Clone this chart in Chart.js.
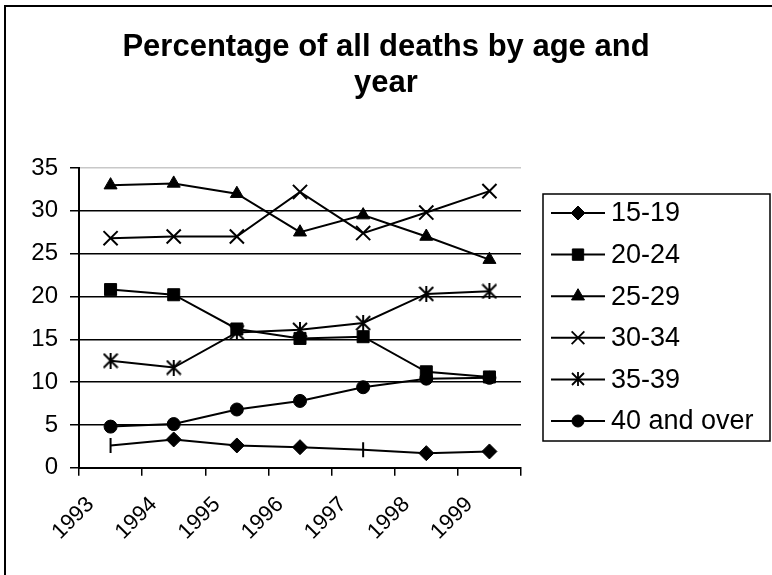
<!DOCTYPE html>
<html>
<head>
<meta charset="utf-8">
<script src="https://cdn.jsdelivr.net/npm/chart.js@4.4.1/dist/chart.umd.min.js"></script>
<style>
  html, body { margin: 0; padding: 0; background: #fff; }
  #wrap { position: relative; width: 772px; height: 575px; }
</style>
</head>
<body>
<div id="wrap"><canvas id="deathsChart" width="772" height="575"></canvas></div>
<script>
/* ══════════════════════════════
   DATA
══════════════════════════════ */
const years = ['1993', '1994', '1995', '1996', '1997', '1998', '1999'];
const yTicks = [0, 5, 10, 15, 20, 25, 30, 35];
const titleLines = ['Percentage of all deaths by age and', 'year'];

const age15to19 = [2.6, 3.3, 2.6, 2.4, 2.1, 1.7, 1.9];
const age20to24 = [20.8, 20.2, 16.2, 15.1, 15.3, 11.2, 10.6];
const age25to29 = [33.0, 33.2, 32.0, 27.5, 29.5, 27.0, 24.3];
const age30to34 = [26.8, 27.0, 27.0, 32.2, 27.4, 29.8, 32.3];
const age35to39 = [12.5, 11.7, 15.8, 16.1, 16.9, 20.3, 20.6];
const age40plus = [4.8, 5.1, 6.8, 7.8, 9.4, 10.4, 10.5];

const FONT = '"Liberation Sans", Arial, sans-serif';

// Excel style asterisk marker (X plus a vertical bar)
function asterisk(size, lw) {
  const c = document.createElement('canvas');
  c.width = size;
  c.height = size;
  const g = c.getContext('2d');
  g.strokeStyle = '#000';
  g.lineWidth = lw;
  g.beginPath();
  g.moveTo(1, 1); g.lineTo(size - 1, size - 1);
  g.moveTo(size - 1, 1); g.lineTo(1, size - 1);
  g.moveTo(size / 2, 0); g.lineTo(size / 2, size);
  g.stroke();
  return c;
}
const starBig = asterisk(16, 2);
const starSmall = asterisk(14, 1.8);

const legendStyles = ['rectRot', 'rect', 'triangle', 'crossRot', starSmall, 'circle'];
const legendRadii = [7, 8, 7.5, 9, 7, 6];

/* ══════════════════════════════
   PLUGINS
══════════════════════════════ */
// frame + two-line title centred on the whole picture
const frameAndTitle = {
  id: 'frameAndTitle',
  afterDraw(chart) {
    const { ctx, width } = chart;
    ctx.save();
    ctx.fillStyle = '#000';
    ctx.fillRect(4, 5, 2, 570);
    ctx.fillRect(4, 5, 768, 2);

    ctx.font = 'bold 31px ' + FONT;
    ctx.textAlign = 'center';
    ctx.textBaseline = 'alphabetic';
    ctx.fillText(titleLines[0], width / 2, 56);
    ctx.fillText(titleLines[1], width / 2, 92);
    ctx.restore();
  }
};

const legendBox = {
  id: 'legendBox',
  afterDraw(chart) {
    const { ctx, chartArea } = chart;
    const x0 = chartArea.right + 22;
    const y0 = chartArea.top + 26;
    ctx.save();
    ctx.strokeStyle = '#000';
    ctx.fillStyle = '#000';
    ctx.lineWidth = 1.5;
    ctx.strokeRect(x0, y0, 227, 247);

    chart.data.datasets.forEach((ds, i) => {
      const y = y0 + 19 + i * 41.6;
      ctx.lineWidth = 2;
      ctx.beginPath();
      ctx.moveTo(x0 + 8, y);
      ctx.lineTo(x0 + 62, y);
      ctx.stroke();
      if (legendStyles[i] === starSmall) {
        ctx.drawImage(starSmall, Math.round(x0 + 35 - 7), Math.round(y - 7));
      } else {
        ctx.lineWidth = i === 3 ? 1.8 : 1;
        Chart.helpers.drawPoint(ctx, {
          pointStyle: legendStyles[i],
          radius: legendRadii[i],
          rotation: 0,
          borderWidth: 1
        }, x0 + 35, y);
      }
      ctx.font = '27px ' + FONT;
      ctx.textAlign = 'left';
      ctx.textBaseline = 'middle';
      ctx.fillText(ds.label, x0 + 68, y + 1);
    });
    ctx.restore();
  }
};

/* ══════════════════════════════
   CHART
══════════════════════════════ */
const base = {
  borderColor: '#000',
  backgroundColor: '#000',
  borderWidth: 2,
  pointBackgroundColor: '#000',
  pointBorderColor: '#000',
  pointBorderWidth: 1,
  tension: 0,
  fill: false
};

new Chart(document.getElementById('deathsChart').getContext('2d'), {
  type: 'line',
  data: {
    labels: years,
    datasets: [
      {
        ...base,
        label: '15-19',
        data: age15to19,
        pointStyle: ['line', 'rectRot', 'rectRot', 'rectRot', 'line', 'rectRot', 'rectRot'],
        pointRotation: [90, 0, 0, 0, 90, 0, 0],
        pointBorderWidth: [2, 1, 1, 1, 2, 1, 1],
        pointRadius: 7.5
      },
      { ...base, label: '20-24', data: age20to24, pointStyle: 'rect', pointRadius: 8.5 },
      { ...base, label: '25-29', data: age25to29, pointStyle: 'triangle', pointRadius: 7.5 },
      { ...base, label: '30-34', data: age30to34, pointStyle: 'crossRot', pointRadius: 10, pointBorderWidth: 2 },
      { ...base, label: '35-39', data: age35to39, pointStyle: starBig, pointRadius: 8 },
      { ...base, label: '40 and over', data: age40plus, pointStyle: 'circle', pointRadius: 6.5 }
    ]
  },
  options: {
    responsive: false,
    devicePixelRatio: 1,
    animation: false,
    layout: {
      padding: { left: 31, top: 168, right: 251, bottom: 14 }
    },
    plugins: {
      legend: { display: false },
      title: { display: false },
      tooltip: { enabled: false }
    },
    scales: {
      x: {
        offset: true,
        afterFit: scale => { scale.paddingLeft = 0; scale.paddingRight = 0; },
        grid: {
          offset: true,
          drawOnChartArea: false,
          drawTicks: true,
          tickLength: 8,
          color: '#000',
          lineWidth: 1.5
        },
        border: { display: true, color: '#000', width: 2 },
        ticks: {
          color: '#000',
          font: { family: FONT, size: 22 },
          minRotation: 45,
          maxRotation: 45,
          labelOffset: -20,
          padding: 16
        }
      },
      y: {
        min: 0,
        max: 35,
        afterBuildTicks: axis => { axis.ticks = yTicks.map(v => ({ value: v })); },
        afterFit: scale => { scale.width = 48; },
        grid: {
          color: ctx => (ctx.tick && ctx.tick.value === 35 ? '#c8c8c8' : '#000'),
          tickColor: '#000',
          lineWidth: 1.5,
          tickLength: 9
        },
        border: { display: true, color: '#000', width: 2 },
        ticks: {
          color: '#000',
          font: { family: FONT, size: 24 },
          padding: 12
        }
      }
    }
  },
  plugins: [frameAndTitle, legendBox]
});
</script>
</body>
</html>
